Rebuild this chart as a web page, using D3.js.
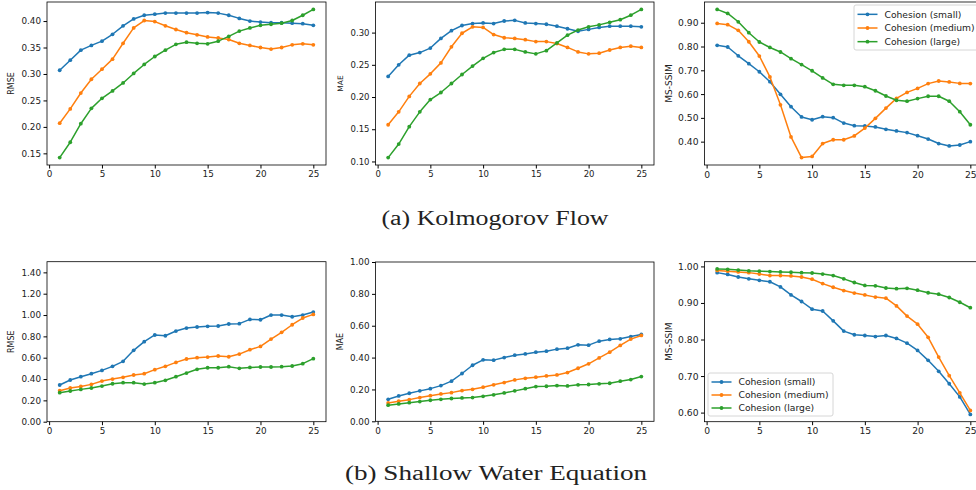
<!DOCTYPE html>
<html>
<head>
<meta charset="utf-8">
<script src="https://cdn.jsdelivr.net/npm/d3@7"></script>
<style>
body { margin: 0; background: #fff; }
svg { display: block; }
text { font-family: "DejaVu Sans", sans-serif; fill: #222; }
</style>
</head>
<body>
<svg id="chart" width="976" height="490"></svg>
<script>
var steps = [1,2,3,4,5,6,7,8,9,10,11,12,13,14,15,16,17,18,19,20,21,22,23,24,25];
var x_ticks = [0, 5, 10, 15, 20, 25];
var series_names  = ["Cohesion (small)", "Cohesion (medium)", "Cohesion (large)"];
var series_colors = ["#1f77b4", "#ff7f0e", "#2ca02c"];

// (a) Kolmogorov flow
var kf_rmse_small  = [0.307,0.326,0.345,0.354,0.362,0.375,0.391,0.404,0.411,0.413,0.415,0.415,0.415,0.415,0.416,0.415,0.411,0.405,0.400,0.398,0.397,0.397,0.396,0.395,0.392];
var kf_rmse_medium = [0.207,0.234,0.264,0.290,0.309,0.328,0.358,0.387,0.401,0.399,0.391,0.384,0.378,0.374,0.370,0.368,0.365,0.358,0.354,0.350,0.347,0.350,0.355,0.357,0.355];
var kf_rmse_large  = [0.142,0.171,0.206,0.235,0.254,0.268,0.283,0.301,0.318,0.333,0.345,0.356,0.360,0.358,0.357,0.362,0.371,0.381,0.387,0.392,0.394,0.396,0.401,0.411,0.422];

var kf_mae_small  = [0.232,0.250,0.265,0.269,0.276,0.291,0.303,0.311,0.314,0.315,0.314,0.318,0.319,0.315,0.314,0.313,0.310,0.306,0.302,0.305,0.308,0.310,0.310,0.310,0.309];
var kf_mae_medium = [0.157,0.177,0.201,0.221,0.236,0.253,0.278,0.299,0.309,0.308,0.297,0.292,0.291,0.289,0.286,0.286,0.283,0.277,0.270,0.267,0.268,0.273,0.277,0.279,0.277];
var kf_mae_large  = [0.106,0.127,0.154,0.177,0.196,0.207,0.221,0.235,0.248,0.260,0.269,0.274,0.274,0.270,0.267,0.272,0.284,0.296,0.304,0.309,0.312,0.316,0.320,0.327,0.336];

var kf_ssim_small  = [0.805,0.798,0.761,0.728,0.694,0.652,0.599,0.547,0.504,0.492,0.505,0.501,0.478,0.467,0.466,0.462,0.452,0.445,0.438,0.425,0.411,0.392,0.382,0.386,0.400];
var kf_ssim_medium = [0.897,0.892,0.868,0.820,0.760,0.672,0.555,0.420,0.333,0.338,0.392,0.408,0.408,0.424,0.457,0.498,0.541,0.582,0.607,0.624,0.644,0.655,0.651,0.645,0.644];
var kf_ssim_large  = [0.956,0.939,0.904,0.858,0.819,0.796,0.777,0.749,0.724,0.698,0.668,0.641,0.637,0.637,0.631,0.614,0.592,0.574,0.570,0.581,0.591,0.591,0.570,0.526,0.471];

// (b) Shallow water equation
var swe_rmse_small  = [0.344,0.391,0.422,0.450,0.481,0.519,0.566,0.669,0.750,0.813,0.806,0.850,0.878,0.888,0.894,0.897,0.916,0.919,0.959,0.956,1.000,1.000,0.984,1.000,1.028];
var swe_rmse_medium = [0.290,0.316,0.331,0.350,0.381,0.400,0.416,0.438,0.450,0.488,0.519,0.556,0.588,0.600,0.606,0.616,0.609,0.634,0.675,0.706,0.775,0.838,0.909,0.972,1.006];
var swe_rmse_large  = [0.272,0.288,0.303,0.316,0.334,0.356,0.366,0.366,0.353,0.366,0.388,0.422,0.456,0.491,0.506,0.506,0.516,0.500,0.509,0.513,0.513,0.516,0.522,0.544,0.591];

var swe_mae_small  = [0.138,0.159,0.176,0.191,0.205,0.224,0.252,0.300,0.352,0.386,0.384,0.400,0.415,0.423,0.434,0.440,0.453,0.459,0.480,0.478,0.503,0.514,0.518,0.532,0.545];
var swe_mae_medium = [0.115,0.126,0.136,0.149,0.161,0.172,0.180,0.193,0.201,0.214,0.229,0.243,0.260,0.270,0.277,0.285,0.291,0.306,0.333,0.361,0.398,0.434,0.476,0.516,0.539];
var swe_mae_large  = [0.101,0.109,0.117,0.124,0.132,0.138,0.143,0.147,0.149,0.157,0.166,0.178,0.191,0.205,0.218,0.220,0.224,0.222,0.229,0.231,0.235,0.239,0.252,0.262,0.281];

var swe_ssim_small  = [0.983,0.978,0.971,0.966,0.962,0.958,0.944,0.922,0.904,0.883,0.878,0.851,0.823,0.813,0.811,0.808,0.811,0.803,0.790,0.770,0.743,0.713,0.679,0.643,0.595];
var swe_ssim_medium = [0.989,0.987,0.985,0.983,0.979,0.975,0.975,0.974,0.971,0.965,0.953,0.943,0.934,0.927,0.922,0.916,0.913,0.892,0.864,0.842,0.806,0.752,0.701,0.654,0.606];
var swe_ssim_large  = [0.993,0.992,0.990,0.988,0.987,0.986,0.985,0.984,0.983,0.982,0.979,0.975,0.966,0.956,0.948,0.947,0.941,0.939,0.940,0.935,0.928,0.924,0.915,0.902,0.887];

// y tick labels per panel
var kf_rmse_ticks  = [0.15, 0.20, 0.25, 0.30, 0.35, 0.40];
var kf_mae_ticks   = [0.10, 0.15, 0.20, 0.25, 0.30];
var kf_ssim_ticks  = [0.40, 0.50, 0.60, 0.70, 0.80, 0.90];
var swe_rmse_ticks = [0.00, 0.20, 0.40, 0.60, 0.80, 1.00, 1.20, 1.40];
var swe_mae_ticks  = [0.00, 0.20, 0.40, 0.60, 0.80, 1.00];
var swe_ssim_ticks = [0.60, 0.70, 0.80, 0.90, 1.00];

var captions = ["(a) Kolmogorov Flow", "(b) Shallow Water Equation"];

// layout: box = [left, top, right, bottom]
var panels = [
    { box: [47, 2, 326, 165],      label: "RMSE",    label_size: 8,   tick_size: 8.8,
      series: [kf_rmse_small, kf_rmse_medium, kf_rmse_large], ticks: kf_rmse_ticks },
    { box: [375.5, 2, 654, 165],   label: "MAE",     label_size: 7.5, tick_size: 8.5,
      series: [kf_mae_small, kf_mae_medium, kf_mae_large], ticks: kf_mae_ticks },
    { box: [704.5, 2, 983, 165],   label: "MS-SSIM", label_size: 9,   tick_size: 9.2,
      series: [kf_ssim_small, kf_ssim_medium, kf_ssim_large], ticks: kf_ssim_ticks,
      legend: [854, 5, 1000, 50] },
    { box: [47, 261.7, 326, 421.7], label: "RMSE",   label_size: 8,   tick_size: 8.8,
      series: [swe_rmse_small, swe_rmse_medium, swe_rmse_large], ticks: swe_rmse_ticks, ylim: [0, 1.5] },
    { box: [375.5, 262, 654, 421.3], label: "MAE",   label_size: 8,   tick_size: 8.8,
      series: [swe_mae_small, swe_mae_medium, swe_mae_large], ticks: swe_mae_ticks, ylim: [0, 1.0] },
    { box: [704.5, 261.7, 983, 421.7], label: "MS-SSIM", label_size: 9, tick_size: 9.2,
      series: [swe_ssim_small, swe_ssim_medium, swe_ssim_large], ticks: swe_ssim_ticks,
      legend: [708, 373, 833, 416] }
];

var svg = d3.select("#chart");

function draw_panel(p) {
    var left = p.box[0], top = p.box[1], right = p.box[2], bottom = p.box[3];

    var ylim = p.ylim;
    if (!ylim) {
        // matplotlib style autoscale with 5% margins
        var all = [].concat.apply([], p.series),
            lo = d3.min(all), hi = d3.max(all), pad = (hi - lo) * 0.05;
        ylim = [lo - pad, hi + pad];
    }

    var x = d3.scaleLinear().domain([-0.2, 26.2]).range([left, right]),
        y = d3.scaleLinear().domain(ylim).range([bottom, top]);

    var g = svg.append("g");

    g.append("g")
        .attr("transform", "translate(0," + bottom + ")")
        .call(d3.axisBottom(x).tickValues(x_ticks).tickSize(3.5).tickPadding(2.5).tickSizeOuter(0))
        .call(a => a.select(".domain").remove())
        .call(a => a.selectAll("text").style("font-size", p.tick_size + "px").attr("fill", "#222"));

    g.append("g")
        .attr("transform", "translate(" + left + ",0)")
        .call(d3.axisLeft(y).tickValues(p.ticks).tickFormat(d3.format(".2f"))
            .tickSize(3.5).tickPadding(2.5).tickSizeOuter(0))
        .call(a => a.select(".domain").remove())
        .call(a => a.selectAll("text").style("font-size", p.tick_size + "px").attr("fill", "#222"));

    g.append("text")
        .attr("transform", "translate(" + (left - 35.5) + "," + ((top + bottom) / 2) + ") rotate(-90)")
        .attr("text-anchor", "middle")
        .attr("dy", "0.35em")
        .style("font-size", p.label_size + "px")
        .text(p.label);

    var line = d3.line()
        .x((d, i) => x(steps[i]))
        .y(d => y(d));

    p.series.forEach(function(values, k) {
        g.append("path")
            .datum(values)
            .attr("d", line)
            .attr("fill", "none")
            .attr("stroke", series_colors[k])
            .attr("stroke-width", 1.5)
            .attr("stroke-linejoin", "round");

        g.selectAll(null)
            .data(values)
            .enter().append("circle")
            .attr("cx", (d, i) => x(steps[i]))
            .attr("cy", d => y(d))
            .attr("r", 1.9)
            .attr("fill", series_colors[k]);
    });

    g.append("rect")
        .attr("x", left).attr("y", top)
        .attr("width", right - left).attr("height", bottom - top)
        .attr("fill", "none")
        .attr("stroke", "#000")
        .attr("stroke-width", 0.8);

    if (p.legend) draw_legend(p.legend);
}

function draw_legend(b) {
    var lg = svg.append("g");
    lg.append("rect")
        .attr("x", b[0]).attr("y", b[1])
        .attr("width", b[2] - b[0]).attr("height", b[3] - b[1])
        .attr("rx", 2)
        .attr("fill", "#fff").attr("fill-opacity", 0.8)
        .attr("stroke", "#ccc").attr("stroke-width", 0.8);

    var row = (b[3] - b[1] - 4) / 3;
    series_names.forEach(function(name, k) {
        var cy = b[1] + 2 + row * (k + 0.5) + 0.5;
        lg.append("line")
            .attr("x1", b[0] + 3.5).attr("x2", b[0] + 23.5)
            .attr("y1", cy).attr("y2", cy)
            .attr("stroke", series_colors[k]).attr("stroke-width", 1.5);
        lg.append("circle")
            .attr("cx", b[0] + 13.5).attr("cy", cy).attr("r", 1.9)
            .attr("fill", series_colors[k]);
        lg.append("text")
            .attr("x", b[0] + 30.5).attr("y", cy)
            .attr("dy", "0.35em")
            .style("font-size", "9.2px")
            .text(name);
    });
}

panels.forEach(draw_panel);

// sub-figure captions, set in a serif face like the LaTeX original
svg.append("text")
    .attr("x", 495).attr("y", 225)
    .attr("text-anchor", "middle")
    .attr("textLength", 227).attr("lengthAdjust", "spacingAndGlyphs")
    .style("font-family", "'Liberation Serif', serif")
    .style("font-size", "20px")
    .attr("fill", "#111")
    .text(captions[0]);

svg.append("text")
    .attr("x", 496).attr("y", 480)
    .attr("text-anchor", "middle")
    .attr("textLength", 302).attr("lengthAdjust", "spacingAndGlyphs")
    .style("font-family", "'Liberation Serif', serif")
    .style("font-size", "20px")
    .attr("fill", "#111")
    .text(captions[1]);
</script>
</body>
</html>
